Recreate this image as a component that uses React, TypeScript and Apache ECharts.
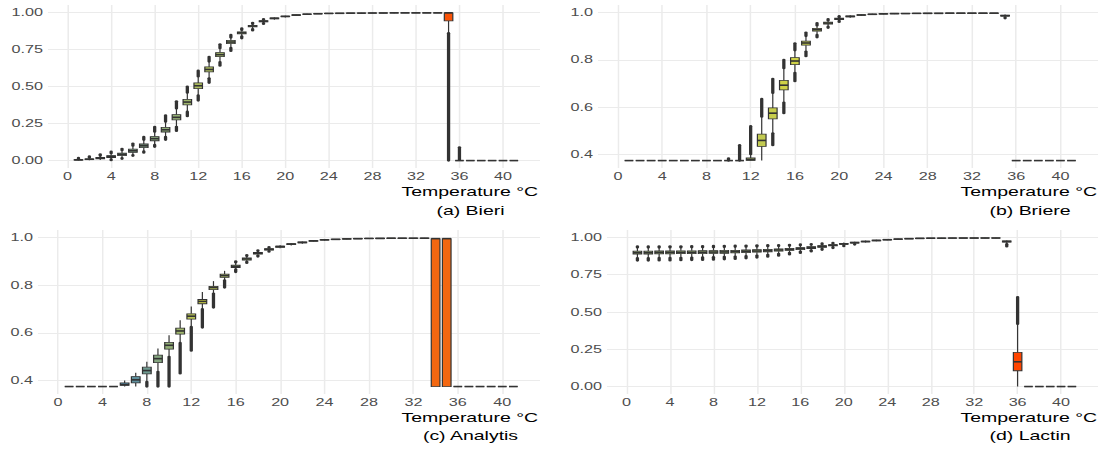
import React, { useEffect, useRef } from "react";
import * as echarts from "echarts";

// Temperature categories (°C)
const temperatures = [
  1, 2, 3, 4, 5, 6, 7, 8, 9, 10, 11, 12, 13, 14, 15, 16, 17, 18, 19, 20, 21,
  22, 23, 24, 25, 26, 27, 28, 29, 30, 31, 32, 33, 34, 35, 36, 37, 38, 39, 40, 41,
];

// Each row: [outlierLow, whiskerLow, q1, median, q3, whiskerHigh, outlierHigh]
const bieriStats = [
  [0.0, 0.0, 0.003, 0.005, 0.007, 0.012, 0.018],
  [0.001, 0.002, 0.006, 0.009, 0.012, 0.02, 0.028],
  [0.002, 0.004, 0.012, 0.016, 0.021, 0.032, 0.042],
  [0.003, 0.008, 0.021, 0.027, 0.034, 0.05, 0.06],
  [0.012, 0.017, 0.034, 0.042, 0.051, 0.07, 0.08],
  [0.032, 0.037, 0.056, 0.066, 0.077, 0.1, 0.115],
  [0.053, 0.062, 0.088, 0.1, 0.112, 0.14, 0.16],
  [0.093, 0.106, 0.134, 0.148, 0.162, 0.195, 0.228],
  [0.14, 0.16, 0.193, 0.208, 0.224, 0.262, 0.305],
  [0.2, 0.228, 0.275, 0.292, 0.31, 0.352, 0.4],
  [0.3, 0.33, 0.376, 0.395, 0.413, 0.458, 0.5],
  [0.405, 0.44, 0.486, 0.505, 0.524, 0.568, 0.607],
  [0.525, 0.555, 0.599, 0.615, 0.632, 0.668, 0.7],
  [0.64, 0.665, 0.701, 0.715, 0.729, 0.758, 0.785],
  [0.74, 0.76, 0.79, 0.8, 0.811, 0.83, 0.848],
  [0.825, 0.838, 0.855, 0.862, 0.869, 0.882, 0.892],
  [0.878, 0.888, 0.902, 0.908, 0.913, 0.922, 0.93],
  [0.922, 0.928, 0.936, 0.94, 0.944, 0.95, 0.955],
  [0.948, 0.951, 0.957, 0.96, 0.963, 0.967, 0.97],
  [0.964, 0.966, 0.971, 0.973, 0.975, 0.978, 0.98],
  [0.976, 0.977, 0.98, 0.982, 0.984, 0.986, 0.987],
  [0.984, 0.985, 0.987, 0.988, 0.989, 0.991, 0.992],
  [0.988, 0.989, 0.99, 0.991, 0.992, 0.993, 0.994],
  [0.991, 0.991, 0.992, 0.993, 0.994, 0.995, 0.996],
  [0.992, 0.993, 0.993, 0.994, 0.995, 0.996, 0.996],
  [0.993, 0.994, 0.994, 0.995, 0.996, 0.996, 0.997],
  [0.994, 0.994, 0.995, 0.995, 0.996, 0.997, 0.997],
  [0.994, 0.995, 0.995, 0.996, 0.996, 0.997, 0.998],
  [0.995, 0.995, 0.996, 0.996, 0.997, 0.998, 0.998],
  [0.995, 0.995, 0.996, 0.997, 0.997, 0.998, 0.998],
  [0.995, 0.996, 0.996, 0.997, 0.997, 0.998, 0.998],
  [0.995, 0.996, 0.996, 0.997, 0.997, 0.998, 0.998],
  [0.995, 0.996, 0.996, 0.997, 0.997, 0.998, 0.998],
  [0.995, 0.996, 0.996, 0.997, 0.997, 0.998, 0.998],
  [0.0, 0.86, 0.943, 0.997, 0.997, 0.999, 0.999],
  [0.0, 0.0, 0.0, 0.0, 0.0, 0.004, 0.09],
  [0, 0, 0, 0, 0, 0, 0],
  [0, 0, 0, 0, 0, 0, 0],
  [0, 0, 0, 0, 0, 0, 0],
  [0, 0, 0, 0, 0, 0, 0],
  [0, 0, 0, 0, 0, 0, 0],
];

const briereStats = [
  [0.375, 0.375, 0.375, 0.375, 0.375, 0.375, 0.375],
  [0.375, 0.375, 0.375, 0.375, 0.375, 0.375, 0.375],
  [0.375, 0.375, 0.375, 0.375, 0.375, 0.375, 0.375],
  [0.375, 0.375, 0.375, 0.375, 0.375, 0.375, 0.375],
  [0.375, 0.375, 0.375, 0.375, 0.375, 0.375, 0.375],
  [0.375, 0.375, 0.375, 0.375, 0.375, 0.375, 0.375],
  [0.375, 0.375, 0.375, 0.375, 0.375, 0.375, 0.375],
  [0.375, 0.375, 0.375, 0.375, 0.375, 0.375, 0.375],
  [0.375, 0.375, 0.375, 0.375, 0.375, 0.375, 0.375],
  [0.375, 0.375, 0.375, 0.375, 0.375, 0.375, 0.384],
  [0.375, 0.375, 0.375, 0.375, 0.375, 0.375, 0.44],
  [0.375, 0.375, 0.376, 0.379, 0.386, 0.402, 0.52],
  [0.375, 0.375, 0.435, 0.46, 0.487, 0.56, 0.635],
  [0.44, 0.49, 0.551, 0.575, 0.597, 0.66, 0.72],
  [0.575, 0.62, 0.673, 0.693, 0.713, 0.765, 0.8],
  [0.71, 0.745, 0.78, 0.795, 0.809, 0.84, 0.87],
  [0.815, 0.835, 0.862, 0.871, 0.879, 0.9, 0.915],
  [0.895, 0.905, 0.921, 0.927, 0.933, 0.945, 0.955],
  [0.935, 0.94, 0.951, 0.955, 0.959, 0.966, 0.972],
  [0.96, 0.964, 0.97, 0.973, 0.976, 0.98, 0.984],
  [0.975, 0.977, 0.981, 0.983, 0.985, 0.988, 0.99],
  [0.984, 0.985, 0.988, 0.989, 0.99, 0.992, 0.993],
  [0.988, 0.989, 0.991, 0.992, 0.993, 0.994, 0.995],
  [0.991, 0.992, 0.993, 0.994, 0.995, 0.996, 0.996],
  [0.993, 0.993, 0.994, 0.995, 0.996, 0.996, 0.997],
  [0.993, 0.994, 0.995, 0.995, 0.996, 0.997, 0.997],
  [0.994, 0.994, 0.995, 0.996, 0.996, 0.997, 0.998],
  [0.994, 0.995, 0.995, 0.996, 0.997, 0.997, 0.998],
  [0.995, 0.995, 0.996, 0.996, 0.997, 0.998, 0.998],
  [0.995, 0.995, 0.996, 0.997, 0.997, 0.998, 0.998],
  [0.995, 0.996, 0.996, 0.997, 0.997, 0.998, 0.998],
  [0.995, 0.996, 0.996, 0.997, 0.997, 0.998, 0.998],
  [0.995, 0.996, 0.996, 0.997, 0.997, 0.998, 0.998],
  [0.995, 0.996, 0.996, 0.997, 0.997, 0.998, 0.998],
  [0.975, 0.979, 0.984, 0.986, 0.988, 0.991, 0.993],
  [0.375, 0.375, 0.375, 0.375, 0.375, 0.375, 0.375],
  [0.375, 0.375, 0.375, 0.375, 0.375, 0.375, 0.375],
  [0.375, 0.375, 0.375, 0.375, 0.375, 0.375, 0.375],
  [0.375, 0.375, 0.375, 0.375, 0.375, 0.375, 0.375],
  [0.375, 0.375, 0.375, 0.375, 0.375, 0.375, 0.375],
  [0.375, 0.375, 0.375, 0.375, 0.375, 0.375, 0.375],
];

const analytisStats = [
  [0.375, 0.375, 0.375, 0.375, 0.375, 0.375, 0.375],
  [0.375, 0.375, 0.375, 0.375, 0.375, 0.375, 0.375],
  [0.375, 0.375, 0.375, 0.375, 0.375, 0.375, 0.375],
  [0.375, 0.375, 0.375, 0.375, 0.375, 0.375, 0.375],
  [0.375, 0.375, 0.375, 0.375, 0.375, 0.375, 0.375],
  [0.375, 0.375, 0.38, 0.383, 0.39, 0.4, 0.402],
  [0.375, 0.375, 0.39, 0.403, 0.417, 0.433, 0.435],
  [0.375, 0.395, 0.428, 0.442, 0.456, 0.479, 0.481],
  [0.375, 0.437, 0.475, 0.492, 0.507, 0.535, 0.537],
  [0.375, 0.5, 0.532, 0.548, 0.56, 0.59, 0.592],
  [0.43, 0.558, 0.595, 0.608, 0.62, 0.653, 0.655],
  [0.525, 0.625, 0.658, 0.67, 0.68, 0.711, 0.713],
  [0.622, 0.7, 0.722, 0.732, 0.74, 0.771, 0.773],
  [0.706, 0.765, 0.781, 0.79, 0.795, 0.817, 0.819],
  [0.79, 0.82, 0.833, 0.84, 0.846, 0.86, 0.862],
  [0.855, 0.866, 0.874, 0.879, 0.884, 0.895, 0.9],
  [0.893, 0.898, 0.905, 0.91, 0.914, 0.922, 0.926],
  [0.92, 0.924, 0.93, 0.934, 0.937, 0.943, 0.946],
  [0.94, 0.943, 0.947, 0.95, 0.953, 0.957, 0.96],
  [0.953, 0.955, 0.959, 0.962, 0.964, 0.967, 0.969],
  [0.965, 0.966, 0.97, 0.972, 0.974, 0.977, 0.978],
  [0.973, 0.974, 0.977, 0.979, 0.981, 0.983, 0.984],
  [0.981, 0.982, 0.984, 0.986, 0.987, 0.989, 0.99],
  [0.986, 0.987, 0.989, 0.99, 0.991, 0.992, 0.993],
  [0.989, 0.99, 0.991, 0.992, 0.993, 0.994, 0.995],
  [0.991, 0.992, 0.993, 0.994, 0.995, 0.996, 0.996],
  [0.993, 0.993, 0.994, 0.995, 0.996, 0.997, 0.997],
  [0.994, 0.994, 0.995, 0.996, 0.996, 0.997, 0.998],
  [0.994, 0.995, 0.995, 0.996, 0.997, 0.997, 0.998],
  [0.995, 0.995, 0.996, 0.997, 0.997, 0.998, 0.998],
  [0.995, 0.996, 0.996, 0.997, 0.997, 0.998, 0.998],
  [0.995, 0.996, 0.996, 0.997, 0.997, 0.998, 0.998],
  [0.995, 0.996, 0.996, 0.997, 0.997, 0.998, 0.998],
  [0.375, 0.375, 0.375, 0.995, 0.995, 0.995, 0.995],
  [0.375, 0.375, 0.375, 0.995, 0.995, 0.995, 0.995],
  [0.375, 0.375, 0.375, 0.375, 0.375, 0.375, 0.375],
  [0.375, 0.375, 0.375, 0.375, 0.375, 0.375, 0.375],
  [0.375, 0.375, 0.375, 0.375, 0.375, 0.375, 0.375],
  [0.375, 0.375, 0.375, 0.375, 0.375, 0.375, 0.375],
  [0.375, 0.375, 0.375, 0.375, 0.375, 0.375, 0.375],
  [0.375, 0.375, 0.375, 0.375, 0.375, 0.375, 0.375],
];

const lactinStats = [
  [0.845, 0.862, 0.889, 0.898, 0.908, 0.932, 0.94],
  [0.845, 0.862, 0.889, 0.898, 0.908, 0.932, 0.94],
  [0.846, 0.863, 0.89, 0.899, 0.909, 0.932, 0.94],
  [0.846, 0.863, 0.89, 0.899, 0.909, 0.933, 0.941],
  [0.847, 0.864, 0.891, 0.9, 0.91, 0.933, 0.941],
  [0.848, 0.865, 0.891, 0.9, 0.91, 0.934, 0.942],
  [0.849, 0.866, 0.892, 0.901, 0.911, 0.934, 0.942],
  [0.851, 0.868, 0.893, 0.902, 0.912, 0.935, 0.943],
  [0.853, 0.87, 0.894, 0.903, 0.913, 0.936, 0.944],
  [0.856, 0.872, 0.896, 0.905, 0.914, 0.937, 0.945],
  [0.86, 0.875, 0.898, 0.907, 0.916, 0.938, 0.946],
  [0.865, 0.879, 0.901, 0.909, 0.918, 0.939, 0.947],
  [0.871, 0.884, 0.904, 0.912, 0.92, 0.941, 0.948],
  [0.878, 0.89, 0.908, 0.916, 0.923, 0.942, 0.949],
  [0.886, 0.897, 0.913, 0.92, 0.927, 0.944, 0.951],
  [0.896, 0.905, 0.919, 0.926, 0.932, 0.947, 0.953],
  [0.906, 0.914, 0.926, 0.932, 0.938, 0.951, 0.956],
  [0.917, 0.924, 0.934, 0.94, 0.945, 0.955, 0.96],
  [0.929, 0.935, 0.943, 0.948, 0.952, 0.96, 0.964],
  [0.941, 0.946, 0.953, 0.957, 0.96, 0.966, 0.969],
  [0.952, 0.956, 0.962, 0.965, 0.968, 0.972, 0.975],
  [0.963, 0.966, 0.97, 0.973, 0.975, 0.979, 0.981],
  [0.972, 0.974, 0.977, 0.98, 0.982, 0.985, 0.986],
  [0.979, 0.981, 0.983, 0.985, 0.987, 0.989, 0.99],
  [0.984, 0.985, 0.987, 0.989, 0.99, 0.992, 0.993],
  [0.988, 0.989, 0.99, 0.992, 0.993, 0.994, 0.995],
  [0.99, 0.991, 0.992, 0.994, 0.995, 0.996, 0.996],
  [0.992, 0.993, 0.994, 0.995, 0.996, 0.997, 0.997],
  [0.993, 0.993, 0.994, 0.995, 0.996, 0.997, 0.997],
  [0.993, 0.994, 0.995, 0.996, 0.996, 0.997, 0.998],
  [0.994, 0.994, 0.995, 0.996, 0.997, 0.997, 0.998],
  [0.994, 0.995, 0.995, 0.996, 0.997, 0.998, 0.998],
  [0.994, 0.995, 0.996, 0.996, 0.997, 0.998, 0.998],
  [0.994, 0.995, 0.996, 0.996, 0.997, 0.998, 0.998],
  [0.94, 0.955, 0.969, 0.973, 0.977, 0.979, 0.979],
  [0.0, 0.0, 0.106, 0.166, 0.229, 0.42, 0.6],
  [0, 0, 0, 0, 0, 0, 0],
  [0, 0, 0, 0, 0, 0, 0],
  [0, 0, 0, 0, 0, 0, 0],
  [0, 0, 0, 0, 0, 0, 0],
  [0, 0, 0, 0, 0, 0, 0],
];

// Fill level of each box (0 = blue-grey, 0.5 = yellow-green, 1 = orange-red)
const bieriFill = [
  0.2, 0.2, 0.2, 0.2, 0.2, 0.2, 0.2, 0.24, 0.26, 0.28, 0.32, 0.38, 0.38, 0.34,
  0.32, 0.3, 0.3, 0.3, 0.3, 0.3, 0.3, 0.3, 0.3, 0.3, 0.3, 0.3, 0.3, 0.3, 0.3,
  0.3, 0.3, 0.3, 0.3, 0.3, 0.95, 0.3, 0.3, 0.3, 0.3, 0.3, 0.3,
];
const briereFill = [
  0.3, 0.3, 0.3, 0.3, 0.3, 0.3, 0.3, 0.3, 0.3, 0.3, 0.3, 0.36, 0.45, 0.47, 0.5,
  0.5, 0.46, 0.42, 0.35, 0.35, 0.35, 0.35, 0.35, 0.35, 0.35, 0.35, 0.35, 0.35,
  0.35, 0.35, 0.35, 0.35, 0.35, 0.35, 0.35, 0.35, 0.35, 0.35, 0.35, 0.35, 0.35,
];
const analytisFill = [
  0.1, 0.1, 0.1, 0.1, 0.1, 0.04, 0.08, 0.14, 0.22, 0.27, 0.32, 0.42, 0.5, 0.42,
  0.36, 0.3, 0.3, 0.3, 0.3, 0.3, 0.3, 0.3, 0.3, 0.3, 0.3, 0.3, 0.3, 0.3, 0.3,
  0.3, 0.3, 0.3, 0.3, 0.88, 0.88, 0.3, 0.3, 0.3, 0.3, 0.3, 0.3,
];
const lactinFill = [
  0.3, 0.3, 0.3, 0.3, 0.3, 0.3, 0.3, 0.3, 0.3, 0.3, 0.3, 0.3, 0.3, 0.3, 0.3,
  0.3, 0.3, 0.3, 0.3, 0.3, 0.3, 0.3, 0.3, 0.3, 0.3, 0.3, 0.3, 0.3, 0.3, 0.3,
  0.3, 0.3, 0.3, 0.3, 0.3, 1.0, 0.3, 0.3, 0.3, 0.3, 0.3,
];

const panelCaptions = ["(a) Bieri", "(b) Briere", "(c) Analytis", "(d) Lactin"];
const xAxisTitle = "Temperature °C";

// ---------------------------------------------------------------------------
const STRETCH = 1102 / 735;
const INNER_W = 735;
const FONT = '"Liberation Sans", Arial, Helvetica, sans-serif';
const INK = "#333333";
const GRID_COLOR = "#ebebeb";
const LABEL_COLOR = "#4d4d4d";
const FILL_SCALE = ["#4a84ad", "#cfd247", "#ff4500"];
const BOX_WIDTH = 0.78;
const X_MIN = -1.8;
const X_MAX = 43.4;

const px = (outer: number) => outer / STRETCH;

const panels = [
  { stats: bieriStats, fill: bieriFill, yMin: -0.05, yMax: 1.05, step: 0.25, digits: 2,
    left: 48, right: 540, top: 5, height: 163, titleRight: 538, captionCenter: 470.5, titleY: 191.7, captionY: 211 },
  { stats: briereStats, fill: briereFill, yMin: 0.34375, yMax: 1.03125, step: 0.2, digits: 1,
    left: 598, right: 1098, top: 5, height: 163, titleRight: 1097, captionCenter: 1030, titleY: 191.7, captionY: 211 },
  { stats: analytisStats, fill: analytisFill, yMin: 0.34375, yMax: 1.03125, step: 0.2, digits: 1,
    left: 38, right: 540, top: 230, height: 164, titleRight: 538, captionCenter: 470.5, titleY: 417.7, captionY: 436 },
  { stats: lactinStats, fill: lactinFill, yMin: -0.05, yMax: 1.05, step: 0.25, digits: 2,
    left: 607, right: 1098, top: 230, height: 164, titleRight: 1097, captionCenter: 1030, titleY: 417.7, captionY: 436 },
];

function renderBox(_params: any, api: any) {
  const x = api.value(0);
  const pt = (i: number) => api.coord([x, api.value(i)]);
  const cx = pt(4)[0];
  const yOutLow = pt(1)[1];
  const yWLow = pt(2)[1];
  const yQ1 = pt(3)[1];
  const yMed = pt(4)[1];
  const yQ3 = pt(5)[1];
  const yWHigh = pt(6)[1];
  const yOutHigh = pt(7)[1];
  const half = api.size([BOX_WIDTH, 0])[0] / 2;
  const children: any[] = [];
  const thick = { stroke: INK, lineWidth: 2.2, lineCap: "round" };
  if (yOutLow - yWLow > 0.5) {
    children.push({ type: "line", shape: { x1: cx, y1: yWLow, x2: cx, y2: yOutLow }, style: thick });
  }
  if (yWHigh - yOutHigh > 0.5) {
    children.push({ type: "line", shape: { x1: cx, y1: yOutHigh, x2: cx, y2: yWHigh }, style: thick });
  }
  children.push({ type: "line", shape: { x1: cx, y1: yQ1, x2: cx, y2: yWLow }, style: { stroke: INK, lineWidth: 0.8 } });
  children.push({ type: "line", shape: { x1: cx, y1: yWHigh, x2: cx, y2: yQ3 }, style: { stroke: INK, lineWidth: 0.8 } });
  children.push({
    type: "rect",
    shape: { x: cx - half, y: yQ3, width: half * 2, height: Math.max(yQ1 - yQ3, 0) },
    style: { fill: api.visual("color"), stroke: INK, lineWidth: 0.8 },
  });
  children.push({
    type: "line",
    shape: { x1: cx - half, y1: yMed, x2: cx + half, y2: yMed },
    style: { stroke: INK, lineWidth: 1.6 },
  });
  return { type: "group", children };
}

function buildOption() {
  const grid = panels.map((p) => ({
    left: px(p.left),
    top: p.top,
    width: px(p.right) - px(p.left),
    height: p.height,
    containLabel: false,
    outerBoundsMode: "none",
  }));
  const xAxis = panels.map((_p, i) => ({
    type: "value",
    gridIndex: i,
    min: X_MIN,
    max: X_MAX,
    splitNumber: 11,
    minInterval: 4,
    maxInterval: 4,
    axisLine: { show: false },
    axisTick: { show: false },
    axisLabel: {
      showMinLabel: false,
      showMaxLabel: false,
      margin: 3,
      fontSize: 10.8,
      fontFamily: FONT,
      color: LABEL_COLOR,
    },
    splitLine: { show: true, showMinLine: false, showMaxLine: false, lineStyle: { color: GRID_COLOR, width: 1 } },
  }));
  const yAxis = panels.map((p, i) => ({
    type: "value",
    gridIndex: i,
    min: p.yMin,
    max: p.yMax,
    splitNumber: 4,
    minInterval: p.step,
    maxInterval: p.step,
    axisLine: { show: false },
    axisTick: { show: false },
    axisLabel: {
      showMinLabel: false,
      showMaxLabel: false,
      margin: 3.3,
      fontSize: 10.8,
      fontFamily: FONT,
      color: LABEL_COLOR,
      formatter: (v: number) => v.toFixed(p.digits),
    },
    splitLine: { show: true, showMinLine: false, showMaxLine: false, lineStyle: { color: GRID_COLOR, width: 1 } },
  }));
  const series = panels.map((p, i) => ({
    type: "custom",
    xAxisIndex: i,
    yAxisIndex: i,
    renderItem: renderBox,
    encode: { x: 0, y: [1, 2, 3, 4, 5, 6, 7] },
    data: temperatures.map((t, k) => [t, ...p.stats[k], p.fill[k]]),
    z: 2,
  }));
  const graphic = panels.flatMap((p, i) => [
    {
      type: "text",
      x: px(p.titleRight),
      y: p.titleY,
      style: {
        text: xAxisTitle,
        align: "right",
        verticalAlign: "middle",
        textAlign: "right",
        textVerticalAlign: "middle",
        fontSize: 13,
        fontFamily: FONT,
        fill: "#000000",
      },
    },
    {
      type: "text",
      x: px(p.captionCenter),
      y: p.captionY,
      style: {
        text: panelCaptions[i],
        align: "center",
        verticalAlign: "middle",
        textAlign: "center",
        textVerticalAlign: "middle",
        fontSize: 13,
        fontFamily: FONT,
        fill: "#000000",
      },
    },
  ]);
  return {
    animation: false,
    backgroundColor: "#ffffff",
    grid,
    xAxis,
    yAxis,
    visualMap: {
      type: "continuous",
      show: false,
      dimension: 8,
      min: 0,
      max: 1,
      seriesIndex: [0, 1, 2, 3],
      inRange: { color: FILL_SCALE },
    },
    series,
    graphic,
  };
}

export default function App() {
  const ref = useRef<HTMLDivElement>(null);
  useEffect(() => {
    if (!ref.current) return;
    const chart = echarts.init(ref.current, undefined, { renderer: "svg" });
    chart.setOption(buildOption() as any);
    return () => chart.dispose();
  }, []);
  return (
    <div
      ref={ref}
      style={{
        position: "fixed",
        left: 0,
        top: 0,
        width: INNER_W,
        height: 450,
        transform: `scaleX(${STRETCH})`,
        transformOrigin: "0 0",
        background: "#ffffff",
      }}
    />
  );
}
